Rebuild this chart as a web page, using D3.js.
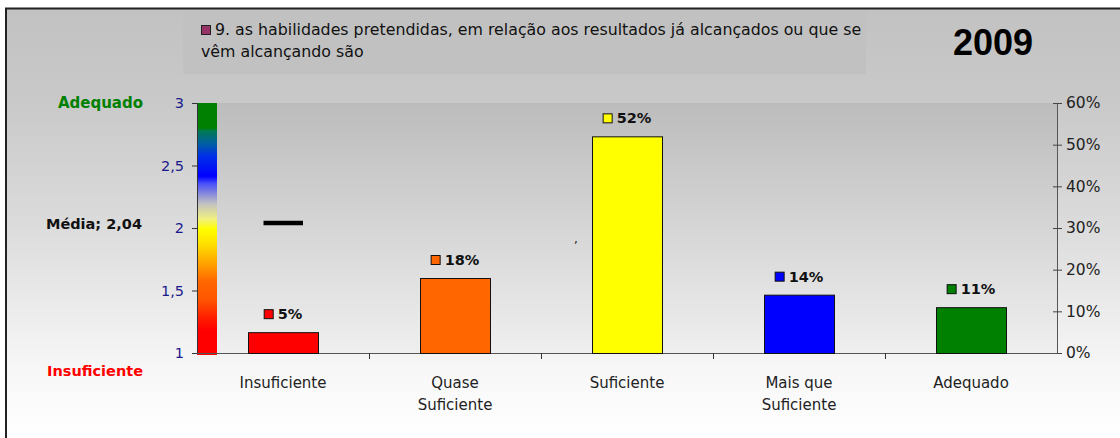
<!DOCTYPE html>
<html>
<head>
<meta charset="utf-8">
<script src="https://cdn.jsdelivr.net/npm/d3@7"></script>
<style>
  html, body { margin: 0; padding: 0; background: #fff; }
  svg { display: block; }
  text { font-family: "DejaVu Sans", sans-serif; }
</style>
</head>
<body>
<svg id="chart" width="1120" height="438"></svg>
<script>
// ---- data ----
const categories = ["Insuficiente", "Quase\nSuficiente", "Suficiente", "Mais que\nSuficiente", "Adequado"];
const percentValues = [0.05, 0.18, 0.52, 0.14, 0.11];
const percentLabels = ["5%", "18%", "52%", "14%", "11%"];
const barColors = ["#ff0000", "#ff6600", "#ffff00", "#0000ff", "#008000"];
const meanValue = 2.04;
const meanLabel = "Média; 2,04";
const leftTicks = [1, 1.5, 2, 2.5, 3];
const leftTickLabels = ["1", "1,5", "2", "2,5", "3"];
const rightTicks = [0, 0.1, 0.2, 0.3, 0.4, 0.5, 0.6];
const legendLines = ["9. as habilidades pretendidas, em relação aos resultados já alcançados ou que se", "vêm alcançando são"];
const yearTitle = "2009";
const scaleTopLabel = "Adequado";
const scaleBottomLabel = "Insuficiente";

// ---- layout ----
const svg = d3.select("#chart");
const L = 197, R = 1057, T = 103, B = 353;

const x = d3.scaleBand().domain(d3.range(categories.length)).range([L, R]).paddingInner(0).paddingOuter(0);
const yPct = d3.scaleLinear().domain([0, 0.6]).range([B, T]);
const yMean = d3.scaleLinear().domain([1, 3]).range([B, T]);

const defs = svg.append("defs");
const bgGrad = defs.append("linearGradient").attr("id", "bg").attr("gradientUnits", "userSpaceOnUse")
  .attr("x1", 0).attr("x2", 0).attr("y1", 9).attr("y2", 438);
[[0, "#c2c2c2"], [0.22, "#c9c9c9"], [0.51, "#dcdcdc"], [0.84, "#f7f7f7"], [1, "#ffffff"]]
  .forEach(([o, c]) => bgGrad.append("stop").attr("offset", o).attr("stop-color", c));

const plotGrad = defs.append("linearGradient").attr("id", "plotbg").attr("x1", 0).attr("x2", 0).attr("y1", 0).attr("y2", 1);
[[0, "#bcbcbc"], [1, "#efefef"]].forEach(([o, c]) => plotGrad.append("stop").attr("offset", o).attr("stop-color", c));

const scaleGrad = defs.append("linearGradient").attr("id", "scalebar").attr("x1", 0).attr("x2", 0).attr("y1", 0).attr("y2", 1);
[[0, "#008000"], [0.10, "#008000"], [0.11, "#007a50"], [0.16, "#0060a0"], [0.21, "#0030e8"],
 [0.29, "#0000ff"], [0.32, "#4a50f8"], [0.40, "#c2c2c0"], [0.46, "#f0f080"], [0.50, "#ffff00"],
 [0.56, "#ffe000"], [0.64, "#ffa000"], [0.71, "#ff6600"], [0.78, "#ff5500"], [0.85, "#ff2000"],
 [0.90, "#ff0000"], [1, "#ff0000"]]
  .forEach(([o, c]) => scaleGrad.append("stop").attr("offset", o).attr("stop-color", c));

// background
svg.append("rect").attr("x", 6).attr("y", 9).attr("width", 1114).attr("height", 429).attr("fill", "url(#bg)");
svg.append("line").attr("x1", 5).attr("x2", 1120).attr("y1", 8.5).attr("y2", 8.5).attr("stroke", "#222").attr("stroke-width", 2);
svg.append("line").attr("x1", 6).attr("x2", 6).attr("y1", 8).attr("y2", 438).attr("stroke", "#222").attr("stroke-width", 2);

// legend box
svg.append("rect").attr("x", 183).attr("y", 10).attr("width", 683).attr("height", 64).attr("fill", "#c1c1c1");
svg.append("rect").attr("x", 201.5).attr("y", 25.5).attr("width", 9).attr("height", 9)
  .attr("fill", "#993366").attr("stroke", "#222").attr("stroke-width", 1);
svg.append("g").selectAll("text").data(legendLines).join("text")
  .attr("x", (d, i) => i === 0 ? 215 : 201).attr("y", (d, i) => 35 + i * 22)
  .attr("font-size", 15.8).attr("fill", "#111").text(d => d);

// year
svg.append("text").attr("x", 993).attr("y", 55).attr("text-anchor", "middle")
  .style("font-family", "'Liberation Sans', Arial, sans-serif").attr("font-weight", "bold")
  .attr("font-size", 36).attr("fill", "#000").text(yearTitle);

// plot area
svg.append("rect").attr("x", 217).attr("y", T).attr("width", R - 217).attr("height", B - T).attr("fill", "url(#plotbg)");

// color scale bar
svg.append("rect").attr("x", L).attr("y", yMean(3)).attr("width", 20).attr("height", yMean(1) - yMean(3) + 2).attr("fill", "url(#scalebar)");

// left axis
const leftAxis = svg.append("g").attr("transform", `translate(${L},0)`)
  .call(d3.axisLeft(yMean).tickValues(leftTicks).tickFormat((d, i) => leftTickLabels[i]).tickSize(5).tickPadding(8));
leftAxis.select(".domain").attr("stroke", "#333");
leftAxis.selectAll(".tick line").attr("stroke", "#333");
leftAxis.selectAll(".tick text").attr("fill", "#1a1a8c").attr("font-size", 14.5).style("font-family", "'DejaVu Sans', sans-serif");

// right axis
const rightAxis = svg.append("g").attr("transform", `translate(${R},0)`)
  .call(d3.axisRight(yPct).tickValues(rightTicks).tickFormat(d3.format(".0%")).tickSize(5).tickPadding(4));
rightAxis.select(".domain").attr("stroke", "#555");
rightAxis.selectAll(".tick line").attr("x1", -4).attr("stroke", "#444");
rightAxis.selectAll(".tick text").attr("fill", "#222").attr("font-size", 15.5).style("font-family", "'DejaVu Sans', sans-serif");

// bottom axis
const bottom = svg.append("g");
bottom.append("line").attr("x1", L).attr("x2", R).attr("y1", B + 0.5).attr("y2", B + 0.5).attr("stroke", "#555");
bottom.selectAll("line.tk").data(d3.range(1, categories.length)).join("line").attr("class", "tk")
  .attr("x1", d => x(d) + 0.5).attr("x2", d => x(d) + 0.5).attr("y1", B).attr("y2", B + 6).attr("stroke", "#333");
const catText = bottom.selectAll("text.cat").data(categories).join("text").attr("class", "cat")
  .attr("text-anchor", "middle").attr("font-size", 15).attr("fill", "#222")
  .attr("x", (d, i) => x(i) + x.bandwidth() / 2).attr("y", 388);
catText.selectAll("tspan").data(d => d.split("\n")).join("tspan")
  .attr("x", function () { return this.parentNode.getAttribute("x"); })
  .attr("dy", (d, i) => i === 0 ? 0 : 22).text(d => d);

// bars
const barW = 70;
svg.append("g").selectAll("rect").data(percentValues).join("rect")
  .attr("x", (d, i) => x(i) + x.bandwidth() / 2 - barW / 2 + 0.5)
  .attr("y", d => yPct(d) + 0.5)
  .attr("width", barW).attr("height", d => B - yPct(d))
  .attr("fill", (d, i) => barColors[i]).attr("stroke", "#111").attr("stroke-width", 1);

// bar labels
const lab = svg.append("g").selectAll("g").data(percentValues).join("g");
lab.each(function (d, i) {
  const g = d3.select(this);
  const cx = x(i) + x.bandwidth() / 2;
  const base = yPct(d) - 13;
  const t = g.append("text").attr("font-size", 14.5).attr("font-weight", "bold").attr("fill", "#111")
    .attr("y", base).text(percentLabels[i]);
  const tw = t.node().getComputedTextLength();
  const total = 9 + 5 + tw;
  const start = cx - total / 2;
  g.append("rect").attr("x", start + 0.5).attr("y", base - 9.5).attr("width", 9).attr("height", 9)
    .attr("fill", barColors[i]).attr("stroke", "#111").attr("stroke-width", 1);
  t.attr("x", start + 14);
});

// mean marker
svg.append("line").attr("x1", x(0) + x.bandwidth() / 2 - 19.5).attr("x2", x(0) + x.bandwidth() / 2 + 20)
  .attr("y1", yMean(meanValue)).attr("y2", yMean(meanValue)).attr("stroke", "#000").attr("stroke-width", 4.5);
svg.append("text").attr("x", 574).attr("y", yMean(meanValue) + 20).attr("font-size", 12).attr("fill", "#222").text(",");

// left side labels
svg.append("text").attr("x", 143).attr("y", yMean(3) + 5).attr("text-anchor", "end")
  .attr("font-size", 15).attr("font-weight", "bold").attr("fill", "#008000").text(scaleTopLabel);
svg.append("text").attr("x", 142).attr("y", yMean(meanValue) + 6).attr("text-anchor", "end")
  .attr("font-size", 14.5).attr("font-weight", "bold").attr("fill", "#111").text(meanLabel);
svg.append("text").attr("x", 143).attr("y", 376).attr("text-anchor", "end")
  .attr("font-size", 14.5).attr("font-weight", "bold").attr("fill", "#ff0000").text(scaleBottomLabel);
</script>
</body>
</html>
